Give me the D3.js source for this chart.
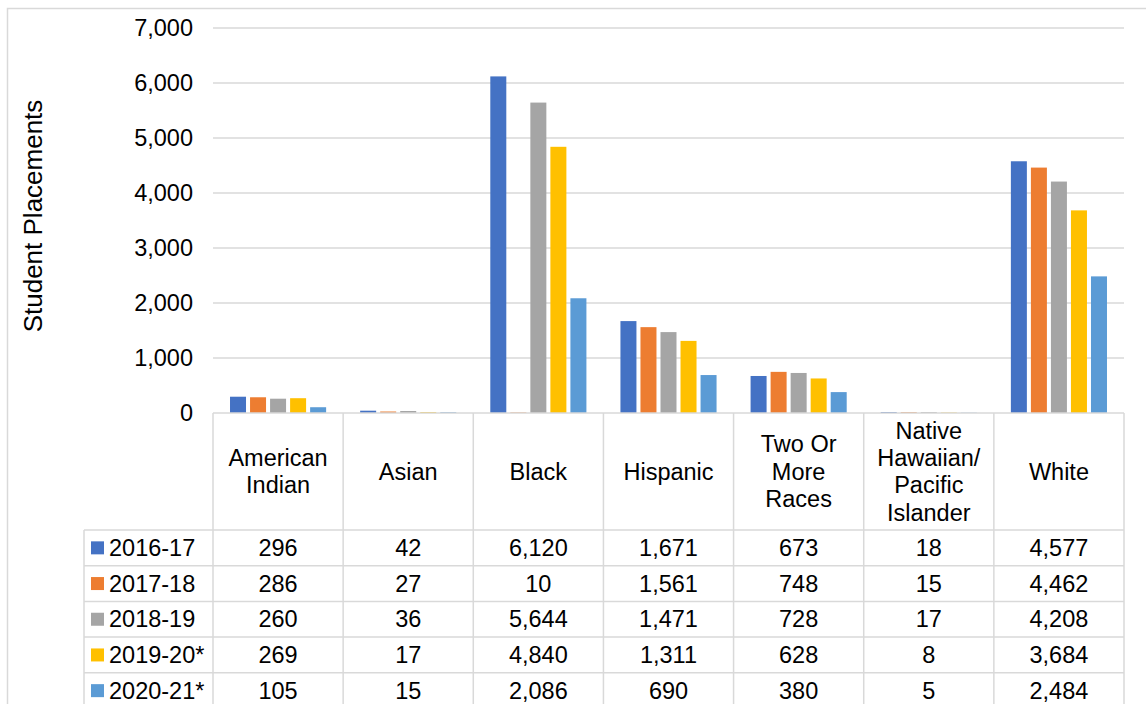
<!DOCTYPE html>
<meta charset="utf-8">
<script src="https://d3js.org/d3.v7.min.js"></script>
<style>
  body { margin: 0; background: #fff; }
  text { font-family: "Liberation Sans", Arial, sans-serif; fill: #000; }
</style>
<div id="my_dataviz"></div>
<script>
var categories = ["American Indian", "Asian", "Black", "Hispanic", "Two Or More Races", "Native Hawaiian/ Pacific Islander", "White"];
var categoryLines = [["American", "Indian"], ["Asian"], ["Black"], ["Hispanic"], ["Two Or", "More", "Races"], ["Native", "Hawaiian/", "Pacific", "Islander"], ["White"]];
var series = ["2016-17", "2017-18", "2018-19", "2019-20*", "2020-21*"];
var colors = ["#4472C4", "#ED7D31", "#A5A5A5", "#FFC000", "#5B9BD5"];
var v2016 = [296, 42, 6120, 1671, 673, 18, 4577];
var v2017 = [286, 27, 10, 1561, 748, 15, 4462];
var v2018 = [260, 36, 5644, 1471, 728, 17, 4208];
var v2019 = [269, 17, 4840, 1311, 628, 8, 3684];
var v2020 = [105, 15, 2086, 690, 380, 5, 2484];
var values = [v2016, v2017, v2018, v2019, v2020];
var yTicks = [0, 1000, 2000, 3000, 4000, 5000, 6000, 7000];

var W = 1146, H = 704;
var fs = 23.5;
var grid = "#d9d9d9";

var svg = d3.select("#my_dataviz").append("svg")
    .attr("width", W).attr("height", H);

// outer chart border (runs off the right and bottom edges)
svg.append("rect")
    .attr("x", 7.5).attr("y", 8.5)
    .attr("width", W + 20).attr("height", H + 20)
    .attr("fill", "none").attr("stroke", grid).attr("stroke-width", 1.5);

var x0 = d3.scaleBand().domain(categories).range([213, 1124]);
var x1 = d3.scaleBand().domain(series).range([15, x0.bandwidth() - 15]);
var y = d3.scaleLinear().domain([0, 7000]).range([413, 28]);

// gridlines
svg.append("g").selectAll("line").data(yTicks.slice(1)).enter().append("line")
    .attr("x1", 213).attr("x2", 1124)
    .attr("y1", function(d) { return y(d); }).attr("y2", function(d) { return y(d); })
    .attr("stroke", grid).attr("stroke-width", 1.5);

// y axis labels
var yAxis = svg.append("g")
    .attr("transform", "translate(213,0)")
    .call(d3.axisLeft(y).tickValues(yTicks).tickSize(0).tickPadding(20).tickFormat(d3.format(",")));
yAxis.select(".domain").remove();
yAxis.selectAll("text")
    .style("font-size", fs + "px")
    .style("font-family", "'Liberation Sans', Arial, sans-serif")
    .attr("fill", "#000");

svg.append("text")
    .attr("transform", "translate(42,216) rotate(-90)")
    .attr("text-anchor", "middle")
    .style("font-size", "26px")
    .text("Student Placements");

// bars
var bw = 16;
series.forEach(function(s, si) {
  svg.append("g").selectAll("rect").data(values[si]).enter().append("rect")
      .attr("x", function(d, i) { return x0(categories[i]) + x1(s) + (x1.bandwidth() - bw) / 2; })
      .attr("y", function(d) { return y(d); })
      .attr("width", bw)
      .attr("height", function(d) { return y(0) - y(d); })
      .attr("fill", colors[si]);
});

// data table
var rowTop = 530, rowH = 35.7;
var yr = d3.scaleBand().domain(series).range([rowTop, rowTop + rowH * series.length]);
var tbl = svg.append("g").attr("stroke", grid).attr("stroke-width", 1.5);

// horizontal lines
tbl.append("line").attr("x1", 213).attr("x2", 1124).attr("y1", 413).attr("y2", 413);
series.forEach(function(s) {
  tbl.append("line").attr("x1", 84).attr("x2", 1124).attr("y1", yr(s)).attr("y2", yr(s));
});
tbl.append("line").attr("x1", 84).attr("x2", 1124)
    .attr("y1", rowTop + rowH * series.length).attr("y2", rowTop + rowH * series.length);

// vertical lines
tbl.append("line").attr("x1", 84).attr("x2", 84).attr("y1", rowTop).attr("y2", H + 10);
categories.forEach(function(c) {
  tbl.append("line").attr("x1", x0(c)).attr("x2", x0(c)).attr("y1", 413).attr("y2", H + 10);
});
tbl.append("line").attr("x1", 1124).attr("x2", 1124).attr("y1", 413).attr("y2", H + 10);

// category header labels
var lh = 27.3;
categoryLines.forEach(function(lines, i) {
  var cx = x0(categories[i]) + x0.bandwidth() / 2;
  var cy = (413 + rowTop) / 2;
  var t = svg.append("text")
      .attr("text-anchor", "middle")
      .style("font-size", fs + "px");
  lines.forEach(function(l, k) {
    t.append("tspan")
        .attr("x", cx)
        .attr("y", cy + (k - (lines.length - 1) / 2) * lh)
        .attr("dy", "0.35em")
        .text(l);
  });
});

// legend keys and values
var fmt = d3.format(",");
series.forEach(function(s, si) {
  var cy = yr(s) + yr.bandwidth() / 2;
  svg.append("rect")
      .attr("x", 91).attr("y", cy - 6.5)
      .attr("width", 13).attr("height", 13)
      .attr("fill", colors[si]);
  svg.append("text")
      .attr("x", 109).attr("y", cy).attr("dy", "0.35em")
      .style("font-size", fs + "px")
      .text(s);
  svg.append("g").selectAll("text").data(values[si]).enter().append("text")
      .attr("x", function(d, i) { return x0(categories[i]) + x0.bandwidth() / 2; })
      .attr("y", cy).attr("dy", "0.35em")
      .attr("text-anchor", "middle")
      .style("font-size", fs + "px")
      .text(function(d) { return fmt(d); });
});
</script>
